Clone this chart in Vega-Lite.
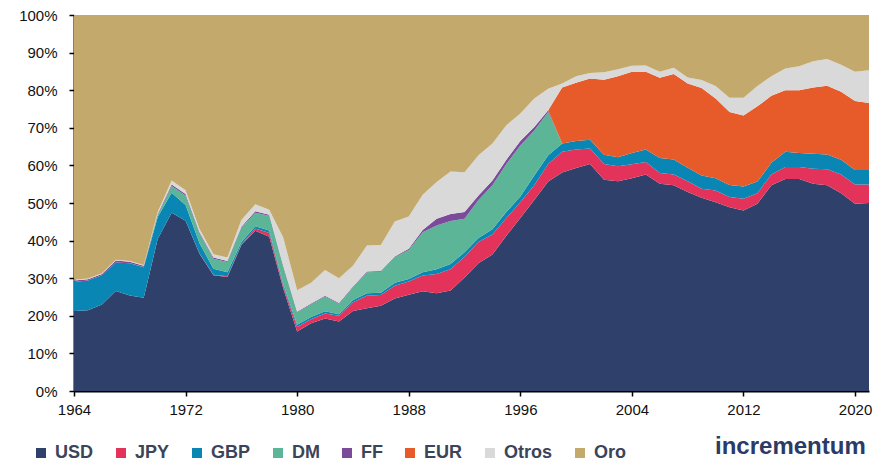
{
  "$schema": "https://vega.github.io/schema/vega-lite/v6.json",
  "width": 795,
  "height": 376,
  "autosize": {"type": "none"},
  "padding": {"left": 74, "top": 15, "right": 15, "bottom": 77},
  "background": "white",
  "title": {
    "text": "incrementum",
    "orient": "bottom",
    "anchor": "end",
    "offset": -27,
    "dx": -6,
    "font": "Liberation Sans",
    "fontSize": 24,
    "fontWeight": "bold",
    "color": "#2b3a67"
  },
  "data": {
    "values": [
      {"year": 1964, "USD": 21.3, "JPY": 0, "GBP": 7.7, "DM": 0, "FF": 0.4, "EUR": 0, "Otros": 0.2, "Oro": 70.4},
      {"year": 1965, "USD": 21.5, "JPY": 0, "GBP": 7.9, "DM": 0, "FF": 0.3, "EUR": 0, "Otros": 0.2, "Oro": 70.1},
      {"year": 1966, "USD": 23.0, "JPY": 0, "GBP": 7.8, "DM": 0, "FF": 0.3, "EUR": 0, "Otros": 0.2, "Oro": 68.7},
      {"year": 1967, "USD": 26.6, "JPY": 0, "GBP": 7.6, "DM": 0, "FF": 0.5, "EUR": 0, "Otros": 0.2, "Oro": 65.1},
      {"year": 1968, "USD": 25.4, "JPY": 0, "GBP": 8.6, "DM": 0, "FF": 0.4, "EUR": 0, "Otros": 0.2, "Oro": 65.4},
      {"year": 1969, "USD": 24.8, "JPY": 0, "GBP": 8.1, "DM": 0.1, "FF": 0.3, "EUR": 0, "Otros": 0.2, "Oro": 66.5},
      {"year": 1970, "USD": 40.4, "JPY": 0, "GBP": 5.9, "DM": 0.5, "FF": 0.3, "EUR": 0, "Otros": 0.5, "Oro": 52.4},
      {"year": 1971, "USD": 47.4, "JPY": 0, "GBP": 5.3, "DM": 1.8, "FF": 0.4, "EUR": 0, "Otros": 1.1, "Oro": 44.0},
      {"year": 1972, "USD": 45.3, "JPY": 0, "GBP": 4.2, "DM": 2.5, "FF": 0.4, "EUR": 0, "Otros": 1.0, "Oro": 46.6},
      {"year": 1973, "USD": 36.5, "JPY": 0.1, "GBP": 2.7, "DM": 2.6, "FF": 0.3, "EUR": 0, "Otros": 0.9, "Oro": 56.9},
      {"year": 1974, "USD": 30.8, "JPY": 0.1, "GBP": 1.6, "DM": 2.7, "FF": 0.3, "EUR": 0, "Otros": 0.9, "Oro": 63.6},
      {"year": 1975, "USD": 30.3, "JPY": 0.2, "GBP": 1.1, "DM": 2.7, "FF": 0.3, "EUR": 0, "Otros": 0.9, "Oro": 64.5},
      {"year": 1976, "USD": 38.8, "JPY": 0.2, "GBP": 0.6, "DM": 3.8, "FF": 0.3, "EUR": 0, "Otros": 1.8, "Oro": 54.5},
      {"year": 1977, "USD": 42.6, "JPY": 0.6, "GBP": 0.6, "DM": 3.6, "FF": 0.4, "EUR": 0, "Otros": 1.9, "Oro": 50.3},
      {"year": 1978, "USD": 41.0, "JPY": 1.0, "GBP": 0.7, "DM": 3.9, "FF": 0.3, "EUR": 0, "Otros": 1.3, "Oro": 51.8},
      {"year": 1979, "USD": 27.3, "JPY": 0.7, "GBP": 0.5, "DM": 4.5, "FF": 0.3, "EUR": 0, "Otros": 7.5, "Oro": 59.2},
      {"year": 1980, "USD": 15.8, "JPY": 1.2, "GBP": 0.6, "DM": 3.3, "FF": 0.2, "EUR": 0, "Otros": 5.7, "Oro": 73.2},
      {"year": 1981, "USD": 18.0, "JPY": 1.1, "GBP": 0.6, "DM": 3.4, "FF": 0.2, "EUR": 0, "Otros": 5.5, "Oro": 71.2},
      {"year": 1982, "USD": 19.3, "JPY": 1.3, "GBP": 0.6, "DM": 3.9, "FF": 0.2, "EUR": 0, "Otros": 6.9, "Oro": 67.8},
      {"year": 1983, "USD": 18.5, "JPY": 1.5, "GBP": 0.4, "DM": 2.8, "FF": 0.2, "EUR": 0, "Otros": 6.6, "Oro": 70.0},
      {"year": 1984, "USD": 21.3, "JPY": 2.3, "GBP": 0.6, "DM": 3.4, "FF": 0.2, "EUR": 0, "Otros": 5.5, "Oro": 66.7},
      {"year": 1985, "USD": 22.0, "JPY": 3.3, "GBP": 0.7, "DM": 5.6, "FF": 0.2, "EUR": 0, "Otros": 6.9, "Oro": 61.3},
      {"year": 1986, "USD": 22.7, "JPY": 2.8, "GBP": 0.6, "DM": 5.6, "FF": 0.2, "EUR": 0, "Otros": 6.9, "Oro": 61.2},
      {"year": 1987, "USD": 24.6, "JPY": 3.4, "GBP": 0.8, "DM": 6.8, "FF": 0.2, "EUR": 0, "Otros": 9.3, "Oro": 54.9},
      {"year": 1988, "USD": 25.6, "JPY": 3.5, "GBP": 0.7, "DM": 7.7, "FF": 0.3, "EUR": 0, "Otros": 8.6, "Oro": 53.6},
      {"year": 1989, "USD": 26.5, "JPY": 4.2, "GBP": 0.9, "DM": 10.6, "FF": 0.6, "EUR": 0, "Otros": 9.4, "Oro": 47.8},
      {"year": 1990, "USD": 26.0, "JPY": 5.1, "GBP": 1.3, "DM": 11.6, "FF": 1.8, "EUR": 0, "Otros": 9.8, "Oro": 44.4},
      {"year": 1991, "USD": 26.7, "JPY": 5.7, "GBP": 1.4, "DM": 11.4, "FF": 1.9, "EUR": 0, "Otros": 11.3, "Oro": 41.6},
      {"year": 1992, "USD": 30.2, "JPY": 5.5, "GBP": 1.2, "DM": 8.9, "FF": 1.8, "EUR": 0, "Otros": 10.6, "Oro": 41.8},
      {"year": 1993, "USD": 34.0, "JPY": 5.6, "GBP": 1.1, "DM": 10.1, "FF": 1.2, "EUR": 0, "Otros": 10.7, "Oro": 37.3},
      {"year": 1994, "USD": 36.3, "JPY": 5.3, "GBP": 1.4, "DM": 11.7, "FF": 1.3, "EUR": 0, "Otros": 9.8, "Oro": 34.2},
      {"year": 1995, "USD": 41.3, "JPY": 4.7, "GBP": 1.6, "DM": 12.8, "FF": 1.1, "EUR": 0, "Otros": 9.2, "Oro": 29.3},
      {"year": 1996, "USD": 46.0, "JPY": 4.2, "GBP": 1.5, "DM": 13.6, "FF": 1.2, "EUR": 0, "Otros": 7.3, "Oro": 26.2},
      {"year": 1997, "USD": 50.8, "JPY": 3.9, "GBP": 2.6, "DM": 12.0, "FF": 0.9, "EUR": 0, "Otros": 7.6, "Oro": 22.2},
      {"year": 1998, "USD": 55.7, "JPY": 4.7, "GBP": 2.3, "DM": 11.5, "FF": 0.5, "EUR": 0, "Otros": 5.7, "Oro": 19.6},
      {"year": 1999, "USD": 58.1, "JPY": 5.5, "GBP": 2.2, "DM": 0, "FF": 0, "EUR": 14.9, "Otros": 1.1, "Oro": 18.2},
      {"year": 2000, "USD": 59.3, "JPY": 4.9, "GBP": 2.3, "DM": 0, "FF": 0, "EUR": 15.5, "Otros": 1.7, "Oro": 16.3},
      {"year": 2001, "USD": 60.4, "JPY": 4.1, "GBP": 2.3, "DM": 0, "FF": 0, "EUR": 16.3, "Otros": 1.5, "Oro": 15.4},
      {"year": 2002, "USD": 56.2, "JPY": 4.2, "GBP": 2.4, "DM": 0, "FF": 0, "EUR": 20.0, "Otros": 2.0, "Oro": 15.2},
      {"year": 2003, "USD": 55.8, "JPY": 4.0, "GBP": 2.4, "DM": 0, "FF": 0, "EUR": 21.5, "Otros": 1.9, "Oro": 14.4},
      {"year": 2004, "USD": 56.6, "JPY": 3.7, "GBP": 3.0, "DM": 0, "FF": 0, "EUR": 21.6, "Otros": 1.6, "Oro": 13.5},
      {"year": 2005, "USD": 57.6, "JPY": 3.3, "GBP": 3.3, "DM": 0, "FF": 0, "EUR": 20.7, "Otros": 1.7, "Oro": 13.4},
      {"year": 2006, "USD": 55.1, "JPY": 2.9, "GBP": 4.0, "DM": 0, "FF": 0, "EUR": 21.3, "Otros": 1.6, "Oro": 15.1},
      {"year": 2007, "USD": 54.7, "JPY": 2.9, "GBP": 4.0, "DM": 0, "FF": 0, "EUR": 22.7, "Otros": 1.7, "Oro": 14.0},
      {"year": 2008, "USD": 52.9, "JPY": 2.9, "GBP": 3.6, "DM": 0, "FF": 0, "EUR": 22.4, "Otros": 1.6, "Oro": 16.6},
      {"year": 2009, "USD": 51.4, "JPY": 2.4, "GBP": 3.5, "DM": 0, "FF": 0, "EUR": 23.3, "Otros": 2.1, "Oro": 17.3},
      {"year": 2010, "USD": 50.2, "JPY": 3.1, "GBP": 3.3, "DM": 0, "FF": 0, "EUR": 21.2, "Otros": 3.3, "Oro": 18.9},
      {"year": 2011, "USD": 48.9, "JPY": 2.7, "GBP": 3.2, "DM": 0, "FF": 0, "EUR": 19.4, "Otros": 3.8, "Oro": 22.0},
      {"year": 2012, "USD": 48.0, "JPY": 3.1, "GBP": 3.3, "DM": 0, "FF": 0, "EUR": 18.9, "Otros": 4.7, "Oro": 22.0},
      {"year": 2013, "USD": 49.8, "JPY": 2.8, "GBP": 3.1, "DM": 0, "FF": 0, "EUR": 20.0, "Otros": 5.4, "Oro": 18.9},
      {"year": 2014, "USD": 54.7, "JPY": 2.9, "GBP": 3.1, "DM": 0, "FF": 0, "EUR": 17.8, "Otros": 5.2, "Oro": 16.3},
      {"year": 2015, "USD": 56.4, "JPY": 3.2, "GBP": 4.0, "DM": 0, "FF": 0, "EUR": 16.4, "Otros": 5.8, "Oro": 14.2},
      {"year": 2016, "USD": 56.4, "JPY": 3.2, "GBP": 3.7, "DM": 0, "FF": 0, "EUR": 16.7, "Otros": 6.4, "Oro": 13.6},
      {"year": 2017, "USD": 55.1, "JPY": 4.0, "GBP": 4.0, "DM": 0, "FF": 0, "EUR": 17.6, "Otros": 7.0, "Oro": 12.3},
      {"year": 2018, "USD": 54.7, "JPY": 4.3, "GBP": 3.9, "DM": 0, "FF": 0, "EUR": 18.3, "Otros": 7.1, "Oro": 11.7},
      {"year": 2019, "USD": 52.6, "JPY": 5.0, "GBP": 3.9, "DM": 0, "FF": 0, "EUR": 18.1, "Otros": 7.2, "Oro": 13.2},
      {"year": 2020, "USD": 49.8, "JPY": 5.1, "GBP": 3.9, "DM": 0, "FF": 0, "EUR": 18.3, "Otros": 7.8, "Oro": 15.1},
      {"year": 2021, "USD": 50.0, "JPY": 4.9, "GBP": 3.9, "DM": 0, "FF": 0, "EUR": 17.8, "Otros": 8.7, "Oro": 14.7}
    ]
  },
  "transform": [
    {"fold": ["USD", "JPY", "GBP", "DM", "FF", "EUR", "Otros", "Oro"], "as": ["serie", "valor"]},
    {"window": [{"op": "row_number", "as": "capa"}], "groupby": ["year"]}
  ],
  "mark": {"type": "area", "interpolate": "linear"},
  "encoding": {
    "x": {
      "field": "year",
      "type": "quantitative",
      "scale": {"domain": [1964, 2021], "nice": false, "zero": false},
      "axis": {
        "title": null,
        "values": [1964, 1972, 1980, 1988, 1996, 2004, 2012, 2020],
        "format": "d",
        "grid": false,
        "domainColor": "#000000",
        "domainWidth": 2,
        "tickColor": "#000000",
        "tickWidth": 1.5,
        "tickSize": 5,
        "labelPadding": 6,
        "labelFont": "Liberation Sans",
        "labelFontSize": 15,
        "labelColor": "#111111",
        "labelFlush": false
      }
    },
    "y": {
      "field": "valor",
      "type": "quantitative",
      "stack": "normalize",
      "scale": {"domain": [0, 1], "nice": false},
      "axis": {
        "title": null,
        "values": [0, 0.1, 0.2, 0.3, 0.4, 0.5, 0.6, 0.7, 0.8, 0.9, 1],
        "format": ".0%",
        "grid": false,
        "domainColor": "#000000",
        "domainWidth": 2,
        "tickColor": "#000000",
        "tickWidth": 1.5,
        "tickSize": 5,
        "labelPadding": 12,
        "labelFont": "Liberation Sans",
        "labelFontSize": 15,
        "labelColor": "#111111"
      }
    },
    "order": {"field": "capa", "type": "quantitative", "sort": "ascending"},
    "color": {
      "field": "serie",
      "type": "nominal",
      "sort": ["USD", "JPY", "GBP", "DM", "FF", "EUR", "Otros", "Oro"],
      "scale": {
        "domain": ["USD", "JPY", "GBP", "DM", "FF", "EUR", "Otros", "Oro"],
        "range": ["#2f416b", "#e3335a", "#0a86b4", "#5bb596", "#7c4a9a", "#e65b29", "#d9d9d9", "#c4a96c"]
      },
      "legend": {
        "title": null,
        "orient": "none",
        "direction": "horizontal",
        "legendX": -42,
        "legendY": 429,
        "padding": 0,
        "symbolType": "square",
        "symbolSize": 100,
        "symbolStrokeWidth": 0,
        "labelOffset": 5,
        "columnPadding": 18,
        "labelFont": "Liberation Sans",
        "labelFontSize": 18,
        "labelFontWeight": "bold",
        "labelColor": "#3b4458"
      }
    }
  },
  "config": {
    "view": {"stroke": null}
  }
}
